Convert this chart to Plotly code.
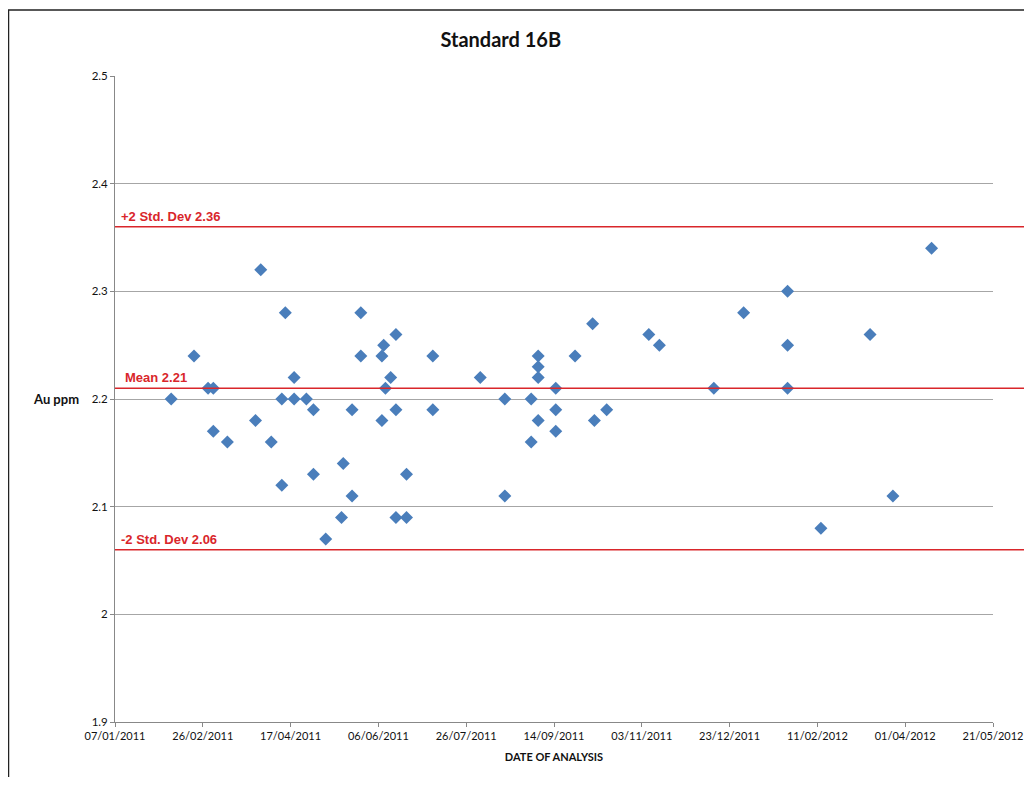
import plotly.graph_objects as go

# ---- data ----
dates = [
    "2011-02-08", "2011-02-21", "2011-03-01", "2011-03-04", "2011-03-04", "2011-03-12",
    "2011-03-28", "2011-03-31", "2011-04-06", "2011-04-12", "2011-04-12", "2011-04-14",
    "2011-04-19", "2011-04-19", "2011-04-26", "2011-04-30", "2011-04-30", "2011-05-07",
    "2011-05-16", "2011-05-17", "2011-05-22", "2011-05-22", "2011-05-27", "2011-05-27",
    "2011-06-08", "2011-06-08", "2011-06-09", "2011-06-10", "2011-06-13", "2011-06-16",
    "2011-06-16", "2011-06-16", "2011-06-22", "2011-06-22", "2011-07-07", "2011-07-07",
    "2011-08-03", "2011-08-17", "2011-08-17", "2011-09-01", "2011-09-01", "2011-09-05",
    "2011-09-05", "2011-09-05", "2011-09-05", "2011-09-15", "2011-09-15", "2011-09-15",
    "2011-09-26", "2011-10-06", "2011-10-07", "2011-10-14", "2011-11-07", "2011-11-13",
    "2011-12-14", "2011-12-31", "2012-01-25", "2012-01-25", "2012-01-25", "2012-02-13",
    "2012-03-12", "2012-03-25", "2012-04-16",
]
au_ppm = [
    2.20, 2.24, 2.21, 2.21, 2.17, 2.16,
    2.18, 2.32, 2.16, 2.12, 2.20, 2.28,
    2.22, 2.20, 2.20, 2.19, 2.13, 2.07,
    2.09, 2.14, 2.19, 2.11, 2.28, 2.24,
    2.24, 2.18, 2.25, 2.21, 2.22, 2.26,
    2.19, 2.09, 2.09, 2.13, 2.24, 2.19,
    2.22, 2.20, 2.11, 2.20, 2.16, 2.24,
    2.23, 2.22, 2.18, 2.21, 2.19, 2.17,
    2.24, 2.27, 2.18, 2.19, 2.26, 2.25,
    2.21, 2.28, 2.30, 2.25, 2.21, 2.08,
    2.26, 2.11, 2.34,
]
ref_labels = ["+2 Std. Dev 2.36", "Mean 2.21", "-2 Std. Dev 2.06"]
ref_values = [2.36, 2.21, 2.06]
x_range = ["2011-01-07", "2012-05-21"]
y_range = [1.9, 2.5]

FONT = "Lato"
RED = "#d9262b"

fig = go.Figure()
fig.add_trace(go.Scatter(
    x=dates, y=au_ppm, mode="markers",
    marker=dict(symbol="diamond", size=10, color="#4a7ebb",
                line=dict(width=0)),
    showlegend=False, hoverinfo="x+y",
))

shapes = []
annotations = []
label_x_offsets = [4, 8, 4]
for lab, val, dx in zip(ref_labels, ref_values, label_x_offsets):
    shapes.append(dict(type="line", xref="paper", yref="y", x0=0, x1=1.04,
                       y0=val, y1=val, line=dict(color=RED, width=1.5)))
    annotations.append(dict(xref="paper", yref="y", x=0, y=val, text=lab,
                            showarrow=False, xanchor="left", yanchor="bottom",
                            xshift=dx, yshift=1,
                            font=dict(family="Liberation Sans, Arial", size=13,
                                      color=RED, weight="bold")))

# outer frame (left and top edges visible)
shapes.append(dict(type="rect", xref="paper", yref="paper",
                   x0=-0.1213, x1=1.1, y0=-0.15, y1=1.102,
                   line=dict(color="#222222", width=1.5), layer="below"))

annotations.append(dict(xref="paper", yref="y", x=0, y=2.2, text="<b>Au ppm</b>",
                        showarrow=False, xanchor="right", xshift=-34,
                        font=dict(family=FONT, size=13, color="#111")))

fig.update_layout(
    width=1016, height=769,
    margin=dict(l=107, r=31, t=68, b=55),
    paper_bgcolor="white", plot_bgcolor="white",
    title=dict(text="<b>Standard 16B</b>", x=0.485, xanchor="center",
               y=0.958, yanchor="middle",
               font=dict(family=FONT, size=20, color="#111")),
    font=dict(family=FONT, size=11, color="#111"),
    shapes=shapes, annotations=annotations,
    xaxis=dict(
        type="date", range=x_range,
        tick0="2011-01-07", dtick=50 * 86400000, tickformat="%d/%m/%Y",
        showgrid=False, showline=True, linecolor="#888888", linewidth=1,
        ticks="outside", ticklen=4, tickcolor="#888888",
        ticklabeloverflow="allow", automargin=False,
        tickfont=dict(family=FONT, size=11, color="#111"),
        title=dict(text="<b>DATE OF ANALYSIS</b>", standoff=12,
                   font=dict(family=FONT, size=11, color="#111")),
        zeroline=False, fixedrange=True,
    ),
    yaxis=dict(
        range=y_range, dtick=0.1, tick0=1.9,
        showgrid=True, gridcolor="#a6a6a6", gridwidth=1,
        showline=True, linecolor="#888888", linewidth=1,
        ticks="outside", ticklen=4, tickcolor="#888888",
        tickfont=dict(family=FONT, size=11.5, color="#111"),
        zeroline=False, fixedrange=True,
    ),
)

fig.write_html("out.html")
